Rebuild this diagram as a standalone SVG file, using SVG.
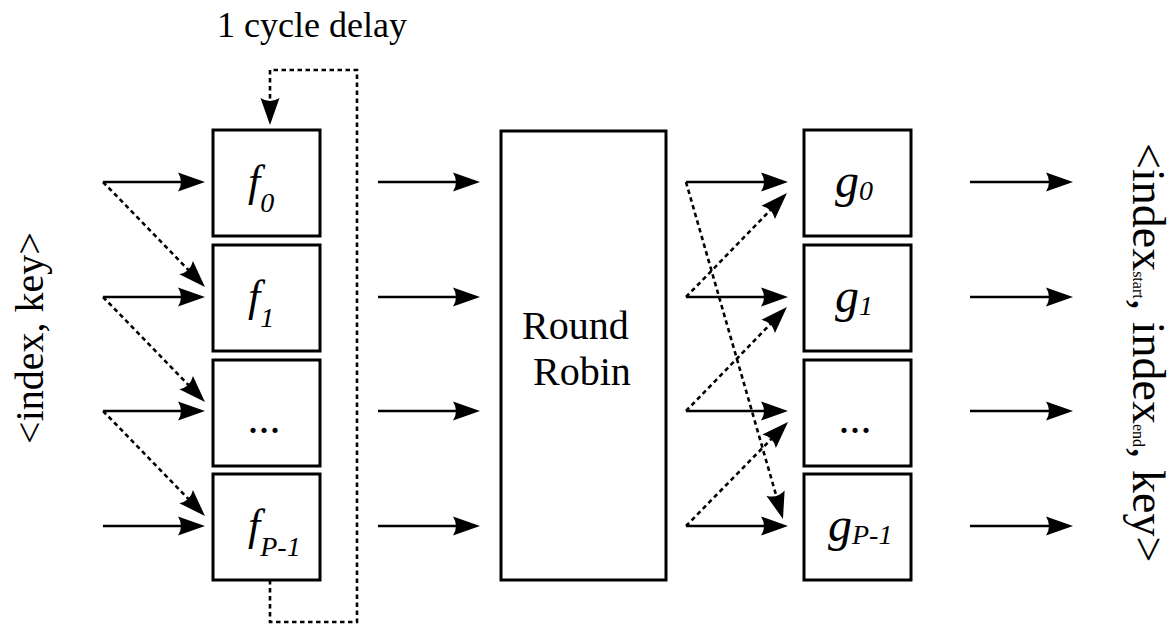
<svg xmlns="http://www.w3.org/2000/svg" width="1176" height="626" viewBox="0 0 1176 626">
<style>
.box{fill:#fff;stroke:#000;stroke-width:3}
.ln{fill:none;stroke:#000;stroke-width:2.7}
.dl{fill:none;stroke:#000;stroke-width:2.6;stroke-dasharray:4.5 3.5}
.t{font-family:"Liberation Serif","Times New Roman",serif;fill:#000}
.i{font-family:"Liberation Serif","Times New Roman",serif;font-style:italic;fill:#000}
</style>
<defs>
<marker id="ah" markerUnits="userSpaceOnUse" orient="auto" refX="0" refY="0" markerWidth="40" markerHeight="40" viewBox="-20 -20 40 40" overflow="visible">
<path d="M10,0 L-17,-9.5 Q-11,0 -17,9.5 Z" fill="#000"/>
</marker>
</defs>
<rect width="1176" height="626" fill="#fff"/>
<text class="t" x="217" y="37" font-size="36">1 cycle delay</text>
<text class="t" font-size="40" text-anchor="middle" transform="translate(43,338) rotate(-90)">&lt;index, key&gt;</text>
<text class="t" font-size="46" transform="translate(1133,143) rotate(90)">&lt;index<tspan font-size="16">start</tspan>, index<tspan font-size="16">end</tspan>, key&gt;</text>
<g id="connectors">
<line class="ln" x1="103" y1="182" x2="195" y2="182" marker-end="url(#ah)"/>
<line class="ln" x1="103" y1="297" x2="195" y2="297" marker-end="url(#ah)"/>
<line class="ln" x1="103" y1="411" x2="195" y2="411" marker-end="url(#ah)"/>
<line class="ln" x1="103" y1="526" x2="195" y2="526" marker-end="url(#ah)"/>
<line class="dl" x1="103" y1="182" x2="198" y2="279.8" marker-end="url(#ah)"/>
<line class="dl" x1="103" y1="297" x2="198" y2="394.8" marker-end="url(#ah)"/>
<line class="dl" x1="103" y1="411" x2="198" y2="508.8" marker-end="url(#ah)"/>
<path class="dl" d="M270,580 V622 H357 V70 H270 V115" marker-end="url(#ah)"/>
<line class="ln" x1="378" y1="182" x2="470" y2="182" marker-end="url(#ah)"/>
<line class="ln" x1="378" y1="297" x2="470" y2="297" marker-end="url(#ah)"/>
<line class="ln" x1="378" y1="411" x2="470" y2="411" marker-end="url(#ah)"/>
<line class="ln" x1="378" y1="526" x2="470" y2="526" marker-end="url(#ah)"/>
<line class="ln" x1="686" y1="182" x2="778" y2="182" marker-end="url(#ah)"/>
<line class="ln" x1="686" y1="297" x2="778" y2="297" marker-end="url(#ah)"/>
<line class="ln" x1="686" y1="411" x2="778" y2="411" marker-end="url(#ah)"/>
<line class="ln" x1="686" y1="526" x2="778" y2="526" marker-end="url(#ah)"/>
<line class="dl" x1="686" y1="182" x2="780.2" y2="509.4" marker-end="url(#ah)"/>
<line class="dl" x1="686" y1="297" x2="780" y2="200.2" marker-end="url(#ah)"/>
<line class="dl" x1="686" y1="411" x2="780" y2="314.2" marker-end="url(#ah)"/>
<line class="dl" x1="686" y1="526" x2="781" y2="429.1" marker-end="url(#ah)"/>
<line class="ln" x1="970" y1="182" x2="1063" y2="182" marker-end="url(#ah)"/>
<line class="ln" x1="970" y1="297" x2="1063" y2="297" marker-end="url(#ah)"/>
<line class="ln" x1="970" y1="411" x2="1063" y2="411" marker-end="url(#ah)"/>
<line class="ln" x1="970" y1="526" x2="1063" y2="526" marker-end="url(#ah)"/>
</g>
<g id="f0"><rect class="box" x="213" y="130" width="107" height="106"/><text class="i" x="248" y="196" font-size="44">f<tspan font-size="28" dy="16">0</tspan></text></g>
<g id="f1"><rect class="box" x="213" y="245" width="107" height="106"/><text class="i" x="248" y="311" font-size="44">f<tspan font-size="28" dy="16">1</tspan></text></g>
<g id="fdots"><rect class="box" x="213" y="360" width="107" height="106"/><text class="t" x="264" y="433" font-size="44" text-anchor="middle">...</text></g>
<g id="fP"><rect class="box" x="213" y="474" width="107" height="106"/><text class="i" x="248" y="540" font-size="44">f<tspan font-size="28" dy="16">P-1</tspan></text></g>
<g id="rr"><rect class="box" x="501" y="131" width="165" height="449"/><text class="t" x="522" y="339" font-size="40">Round</text><text class="t" x="533" y="385" font-size="40">Robin</text></g>
<g id="g0"><rect class="box" x="804" y="130" width="107" height="106"/><text class="i" x="835" y="197" font-size="48">g<tspan font-size="28" dy="3">0</tspan></text></g>
<g id="g1"><rect class="box" x="804" y="245" width="107" height="106"/><text class="i" x="835" y="312" font-size="48">g<tspan font-size="28" dy="3">1</tspan></text></g>
<g id="gdots"><rect class="box" x="804" y="360" width="107" height="106"/><text class="t" x="855" y="433" font-size="44" text-anchor="middle">...</text></g>
<g id="gP"><rect class="box" x="804" y="474" width="107" height="106"/><text class="i" x="828" y="541" font-size="48">g<tspan font-size="28" dy="3">P-1</tspan></text></g>
</svg>
